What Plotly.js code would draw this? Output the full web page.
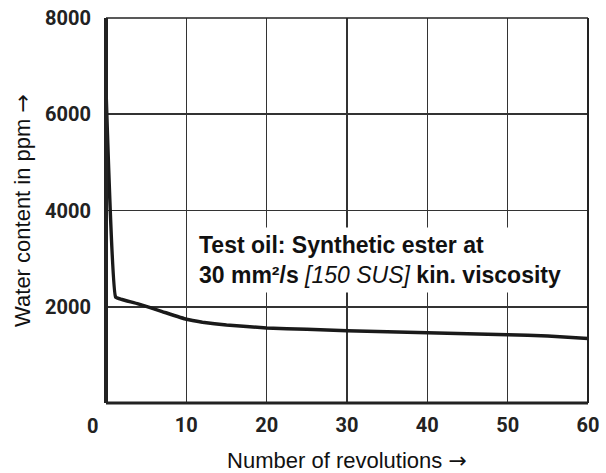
<!DOCTYPE html>
<html>
<head>
<meta charset="utf-8">
<script src="https://cdn.plot.ly/plotly-3.0.1.min.js"></script>
<style>html,body{margin:0;padding:0;background:#fff;}#chart{width:606px;height:473px;}</style>
</head>
<body>
<div id="chart"></div>
<script>
const revolutions = [0, 1.2, 2, 4, 7, 10, 12, 15, 20, 25, 30, 35, 40, 45, 50, 55, 60];
const waterPpm = [6500, 2200, 2150, 2060, 1900, 1740, 1680, 1620, 1560, 1530, 1500, 1480, 1460, 1440, 1420, 1390, 1340];
const xTicks = [10, 20, 30, 40, 50, 60];
const yTicks = [2000, 4000, 6000, 8000];

const tickFont = {family: "Roboto, 'Open Sans', sans-serif", size: 20, color: '#222', weight: 700};
const titleFont = {family: "'Liberation Sans', Arial, sans-serif", size: 22, color: '#111'};
const arrow = '<span style="font-family:DejaVu Sans">→</span>';

const data = [{
  x: revolutions, y: waterPpm, type: 'scatter', mode: 'lines',
  line: {color: '#1a1a1a', width: 3.5, shape: 'spline', smoothing: 0.3},
  hoverinfo: 'skip'
}];

const layout = {
  width: 606, height: 473,
  margin: {l: 106, r: 18, t: 18, b: 70},
  paper_bgcolor: '#fff', plot_bgcolor: '#fff',
  showlegend: false,
  xaxis: {
    range: [0, 60], tickvals: xTicks, ticktext: xTicks.map(String),
    showgrid: true, gridcolor: '#333', gridwidth: 1.6,
    zeroline: false, showline: false, ticks: '',
    tickfont: tickFont, ticklabelstandoff: 8,
    title: {text: 'Number of revolutions ' + arrow, font: titleFont, standoff: 16}
  },
  yaxis: {
    range: [0, 8000], tickvals: yTicks, ticktext: yTicks.map(String),
    showgrid: true, gridcolor: '#333', gridwidth: 1.6,
    zeroline: false, showline: false, ticks: '',
    tickfont: tickFont, ticklabelstandoff: 14,
    title: {text: 'Water content in ppm ' + arrow, font: titleFont, standoff: 8}
  },
  shapes: [
    {type: 'line', xref: 'paper', yref: 'paper', x0: 0, x1: 1, y0: 1, y1: 1, line: {color: '#222', width: 1.5}},
    {type: 'line', xref: 'paper', yref: 'paper', x0: 1, x1: 1, y0: 0, y1: 1, line: {color: '#222', width: 2}},
    {type: 'line', xref: 'paper', yref: 'paper', x0: 0, x1: 1, y0: 0, y1: 0, line: {color: '#222', width: 3}},
    {type: 'line', xref: 'paper', yref: 'paper', x0: 0, x1: 0, y0: 0, y1: 1, line: {color: '#222', width: 4}}
  ],
  annotations: [
    {xref: 'x', yref: 'paper', x: 0, y: 0, yshift: -9, xshift: -14, text: '0', showarrow: false,
     xanchor: 'center', yanchor: 'top', font: tickFont},
    {xref: 'x', yref: 'y', x: 11.0, y: 3660, xanchor: 'left', yanchor: 'top', align: 'left',
     showarrow: false, bgcolor: '#fff', borderpad: 4,
     text: '<b>Test oil: Synthetic ester at</b><br><b>30 mm²/s </b><i>[150 SUS]</i><b> kin. viscosity</b>',
     font: {family: "'Liberation Sans', Arial, sans-serif", size: 23, color: '#111'}}
  ]
};

Plotly.newPlot('chart', data, layout, {displayModeBar: false, staticPlot: true});
</script>
</body>
</html>
